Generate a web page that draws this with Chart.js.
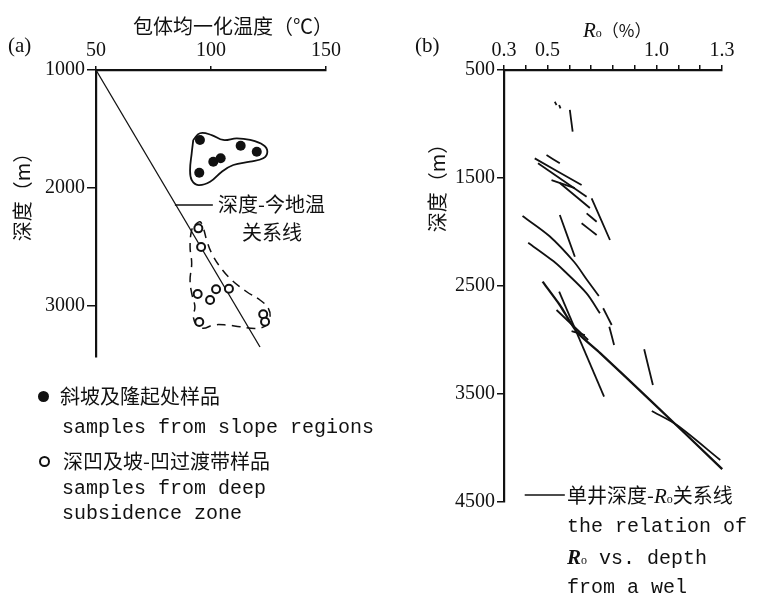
<!DOCTYPE html>
<html>
<head>
<meta charset="utf-8">
<script src="https://cdn.jsdelivr.net/npm/chart.js@4.4.1/dist/chart.umd.min.js"></script>
<style>
  body { margin: 0; background: #fff; }
  #wrap { position: relative; width: 761px; height: 599px; overflow: hidden; background: #fff; color: #111; }
  canvas { position: absolute; top: 0; }
  .t { position: absolute; white-space: nowrap; line-height: 24px; }
  .cjk { font-family: 'Noto Sans CJK SC', sans-serif; font-size: 20px; }
  .serif { font-family: 'Liberation Serif', serif; font-size: 21px; }
  .mono { font-family: 'Liberation Mono', monospace; font-size: 20px; }
  .rot { transform: rotate(-90deg); text-align: center; }
  .dot { position: absolute; width: 11px; height: 11px; border-radius: 50%; background: #111; }
  .ring { position: absolute; width: 7px; height: 7px; border-radius: 50%; border: 2px solid #111; }
</style>
</head>
<body>
<div id="wrap">
  <canvas id="chartA" width="400" height="599" style="left:0"></canvas>
  <canvas id="chartB" width="361" height="599" style="left:400px"></canvas>

  <!-- panel (a) texts -->
  <div class="t serif" style="left:8px;top:33px">(a)</div>
  <div class="t cjk" style="left:133px;top:14px">包体均一化温度（℃）</div>
  <div class="t cjk rot" style="left:-28px;top:180px;width:100px">深度（m）</div>
  <div class="t cjk" style="left:218px;top:192px">深度-今地温</div>
  <div class="t cjk" style="left:242px;top:220px">关系线</div>
  <span class="dot" style="left:38px;top:391px"></span>
  <div class="t cjk" style="left:60px;top:384px">斜坡及隆起处样品</div>
  <div class="t mono" style="left:62px;top:416px">samples from slope regions</div>
  <span class="ring" style="left:39px;top:456px"></span>
  <div class="t cjk" style="left:63px;top:449px">深凹及坡-凹过渡带样品</div>
  <div class="t mono" style="left:62px;top:477px">samples from deep</div>
  <div class="t mono" style="left:62px;top:502px">subsidence zone</div>

  <!-- panel (b) texts -->
  <div class="t serif" style="left:415px;top:33px">(b)</div>
  <div class="t" style="left:583px;top:18px"><i class="serif">R</i><span class="serif" style="font-size:12px">o</span><span class="cjk" style="font-size:17px">（%）</span></div>
  <div class="t cjk rot" style="left:387px;top:171px;width:100px">深度（m）</div>
  <div class="t cjk" style="left:567px;top:483px">单井深度-<i class="serif">R</i><span class="serif" style="font-size:12px">o</span>关系线</div>
  <div class="t mono" style="left:567px;top:515px">the relation of</div>
  <div class="t mono" style="left:567px;top:545px"><i class="serif" style="font-weight:bold">R</i><span class="serif" style="font-size:12px">o</span> vs. depth</div>
  <div class="t mono" style="left:567px;top:576px">from a wel</div>
</div>

<script>
// ---- panel (a): homogenization temperature vs depth ----
const xTicksA = [50, 100, 150];
const yTicksA = [1000, 2000, 3000];

const slopeTemp = [95.2, 112.9, 119.9, 101.0, 104.2, 94.9];
const slopeDepth = [1593, 1642, 1692, 1777, 1748, 1870];

const deepTemp = [94.5, 95.7, 94.2, 102.2, 99.6, 107.8, 94.9, 122.7, 123.5];
const deepDepth = [2342, 2500, 2898, 2858, 2949, 2853, 3136, 3070, 3133];

// present geothermal line
const geoTemp = [50, 121.3];
const geoDepth = [1000, 3347];

// outline round the slope samples (solid)
const slopeHullTemp = [92.3, 95.2, 100.3, 105.3, 111.2, 117.0, 122.7, 124.5, 122.7, 117.0, 109.7, 104.7, 99.6, 94.5, 91.6, 90.9, 91.6, 92.3];
const slopeHullDepth = [1593, 1536, 1551, 1593, 1579, 1593, 1636, 1692, 1748, 1777, 1805, 1862, 1947, 1975, 1932, 1847, 1706, 1593];

// outline round the deep samples (dashed)
const deepHullTemp = [93.0, 95.2, 96.7, 98.1, 100.3, 103.9, 109.0, 115.5, 121.3, 124.9, 125.7, 124.2, 119.9, 112.6, 106.8, 101.0, 96.7, 93.8, 92.3, 93.0, 91.6, 90.9, 91.6, 90.9, 91.6, 93.0];
const deepHullDepth = [2314, 2286, 2342, 2441, 2553, 2667, 2780, 2879, 2949, 3019, 3091, 3161, 3189, 3175, 3161, 3161, 3189, 3161, 3091, 3006, 2892, 2780, 2638, 2497, 2356, 2314];

const leaderTempA = [84.3, 100.8];
const leaderDepthA = [2144, 2144];

// ---- panel (b): Ro vs depth ----
const xTicksB = [0.3, 0.4, 0.5, 0.6, 0.7, 0.8, 0.9, 1.0, 1.1, 1.2, 1.3];
const xLabelsB = ['0.3', '', '0.5', '', '', '', '', '1.0', '', '', '1.3'];
const yTicksB = [500, 1500, 2500, 3500, 4500];

const segRo = [
  [0.533, 0.541],
  [0.553, 0.559],
  [0.602, 0.615],
  [0.495, 0.556],
  [0.441, 0.656],
  [0.456, 0.679],
  [0.518, 0.625],
  [0.556, 0.694],
  [0.702, 0.786],
  [0.679, 0.725],
  [0.656, 0.725],
  [0.556, 0.625],
  [0.385, 0.508, 0.622, 0.681, 0.735],
  [0.411, 0.526, 0.572, 0.679, 0.740],
  [0.755, 0.794],
  [0.783, 0.805],
  [0.553, 0.759],
  [0.541, 0.686],
  [0.610, 0.671],
  [0.943, 0.983],
  [0.978, 1.093, 1.292]
];
const segDepth = [
  [794, 824],
  [824, 855],
  [870, 1071],
  [1287, 1364],
  [1318, 1565],
  [1364, 1673],
  [1519, 1593],
  [1546, 1778],
  [1688, 2074],
  [1827, 1905],
  [1919, 2028],
  [1843, 2229],
  [1852, 2037, 2278, 2444, 2593],
  [2099, 2269, 2352, 2568, 2753],
  [2706, 2861],
  [2877, 3046],
  [2553, 3525],
  [2722, 3000],
  [2917, 2954],
  [3086, 3417],
  [3657, 3787, 4111]
];

const singleWellRo = [0.477, 0.556, 0.634, 0.740, 0.970, 1.301];
const singleWellDepth = [2460, 2676, 2926, 3120, 3556, 4195];

const legendRoB = [0.395, 0.579];
const legendDepthB = [4435, 4435];

const INK = '#111';
const numFont = { family: "'Liberation Serif', serif", size: 20 };

function zip(xs, ys) {
  return xs.map((x, i) => ({ x: x, y: ys[i] }));
}

function lineSet(xs, ys, width, extra) {
  return Object.assign({
    data: zip(xs, ys),
    showLine: true,
    borderColor: INK,
    borderWidth: width,
    pointRadius: 0,
    fill: false,
    clip: false
  }, extra || {});
}

function axis(opts) {
  return {
    type: 'linear',
    position: opts.position,
    min: opts.min,
    max: opts.max,
    reverse: !!opts.reverse,
    afterBuildTicks: (s) => { s.ticks = opts.ticks.map(v => ({ value: v })); },
    afterFit: opts.fit,
    grid: { display: true, drawOnChartArea: false, drawTicks: true, tickLength: opts.tickLength, color: INK, lineWidth: 1.5 },
    border: { display: true, color: INK, width: 2.2 },
    ticks: {
      autoSkip: false,
      maxRotation: 0,
      padding: opts.padding,
      color: INK,
      font: numFont,
      callback: opts.labels ? ((v, i) => opts.labels[i]) : ((v) => String(v))
    },
    title: { display: false }
  };
}

const baseOptions = {
  responsive: false,
  animation: false,
  plugins: { legend: { display: false }, tooltip: { enabled: false } }
};

// Chart (a)
new Chart(document.getElementById('chartA'), {
  type: 'scatter',
  data: {
    datasets: [
      { data: zip(slopeTemp, slopeDepth), pointRadius: 5, pointBackgroundColor: INK, pointBorderColor: INK, borderWidth: 0 },
      { data: zip(deepTemp, deepDepth), pointRadius: 4, pointBackgroundColor: '#fff', pointBorderColor: INK, pointBorderWidth: 2 },
      lineSet(geoTemp, geoDepth, 1.3),
      lineSet(leaderTempA, leaderDepthA, 1.3),
      lineSet(slopeHullTemp, slopeHullDepth, 1.8, { tension: 0.4 }),
      lineSet(deepHullTemp, deepHullDepth, 1.5, { tension: 0.4, borderDash: [9, 6] })
    ]
  },
  options: Object.assign({}, baseOptions, {
    layout: { padding: { top: 0, left: 0, right: 74, bottom: 242 } },
    scales: {
      x: axis({ position: 'top', min: 50, max: 150, ticks: xTicksA, tickLength: 4, padding: 3, fit: (s) => { s.height = 70; } }),
      y: axis({ position: 'left', min: 1000, max: 3432, reverse: true, ticks: yTicksA, tickLength: 9, padding: 2, fit: (s) => { s.width = 96; } })
    }
  })
});

// Chart (b)
const segSets = segRo.map((ro, i) => lineSet(ro, segDepth[i], 1.8, { tension: 0.3 }));

new Chart(document.getElementById('chartB'), {
  type: 'scatter',
  data: {
    datasets: [
      lineSet(singleWellRo, singleWellDepth, 2.3, { tension: 0.2 }),
      lineSet(legendRoB, legendDepthB, 1.6)
    ].concat(segSets)
  },
  options: Object.assign({}, baseOptions, {
    layout: { padding: { top: 0, left: 0, right: 39, bottom: 97 } },
    scales: {
      x: axis({ position: 'top', min: 0.3, max: 1.3, ticks: xTicksB, labels: xLabelsB, tickLength: 5, padding: 2, fit: (s) => { s.height = 70; } }),
      y: axis({ position: 'left', min: 500, max: 4500, reverse: true, ticks: yTicksB, tickLength: 7, padding: 2, fit: (s) => { s.width = 104; } })
    }
  })
});
</script>
</body>
</html>
